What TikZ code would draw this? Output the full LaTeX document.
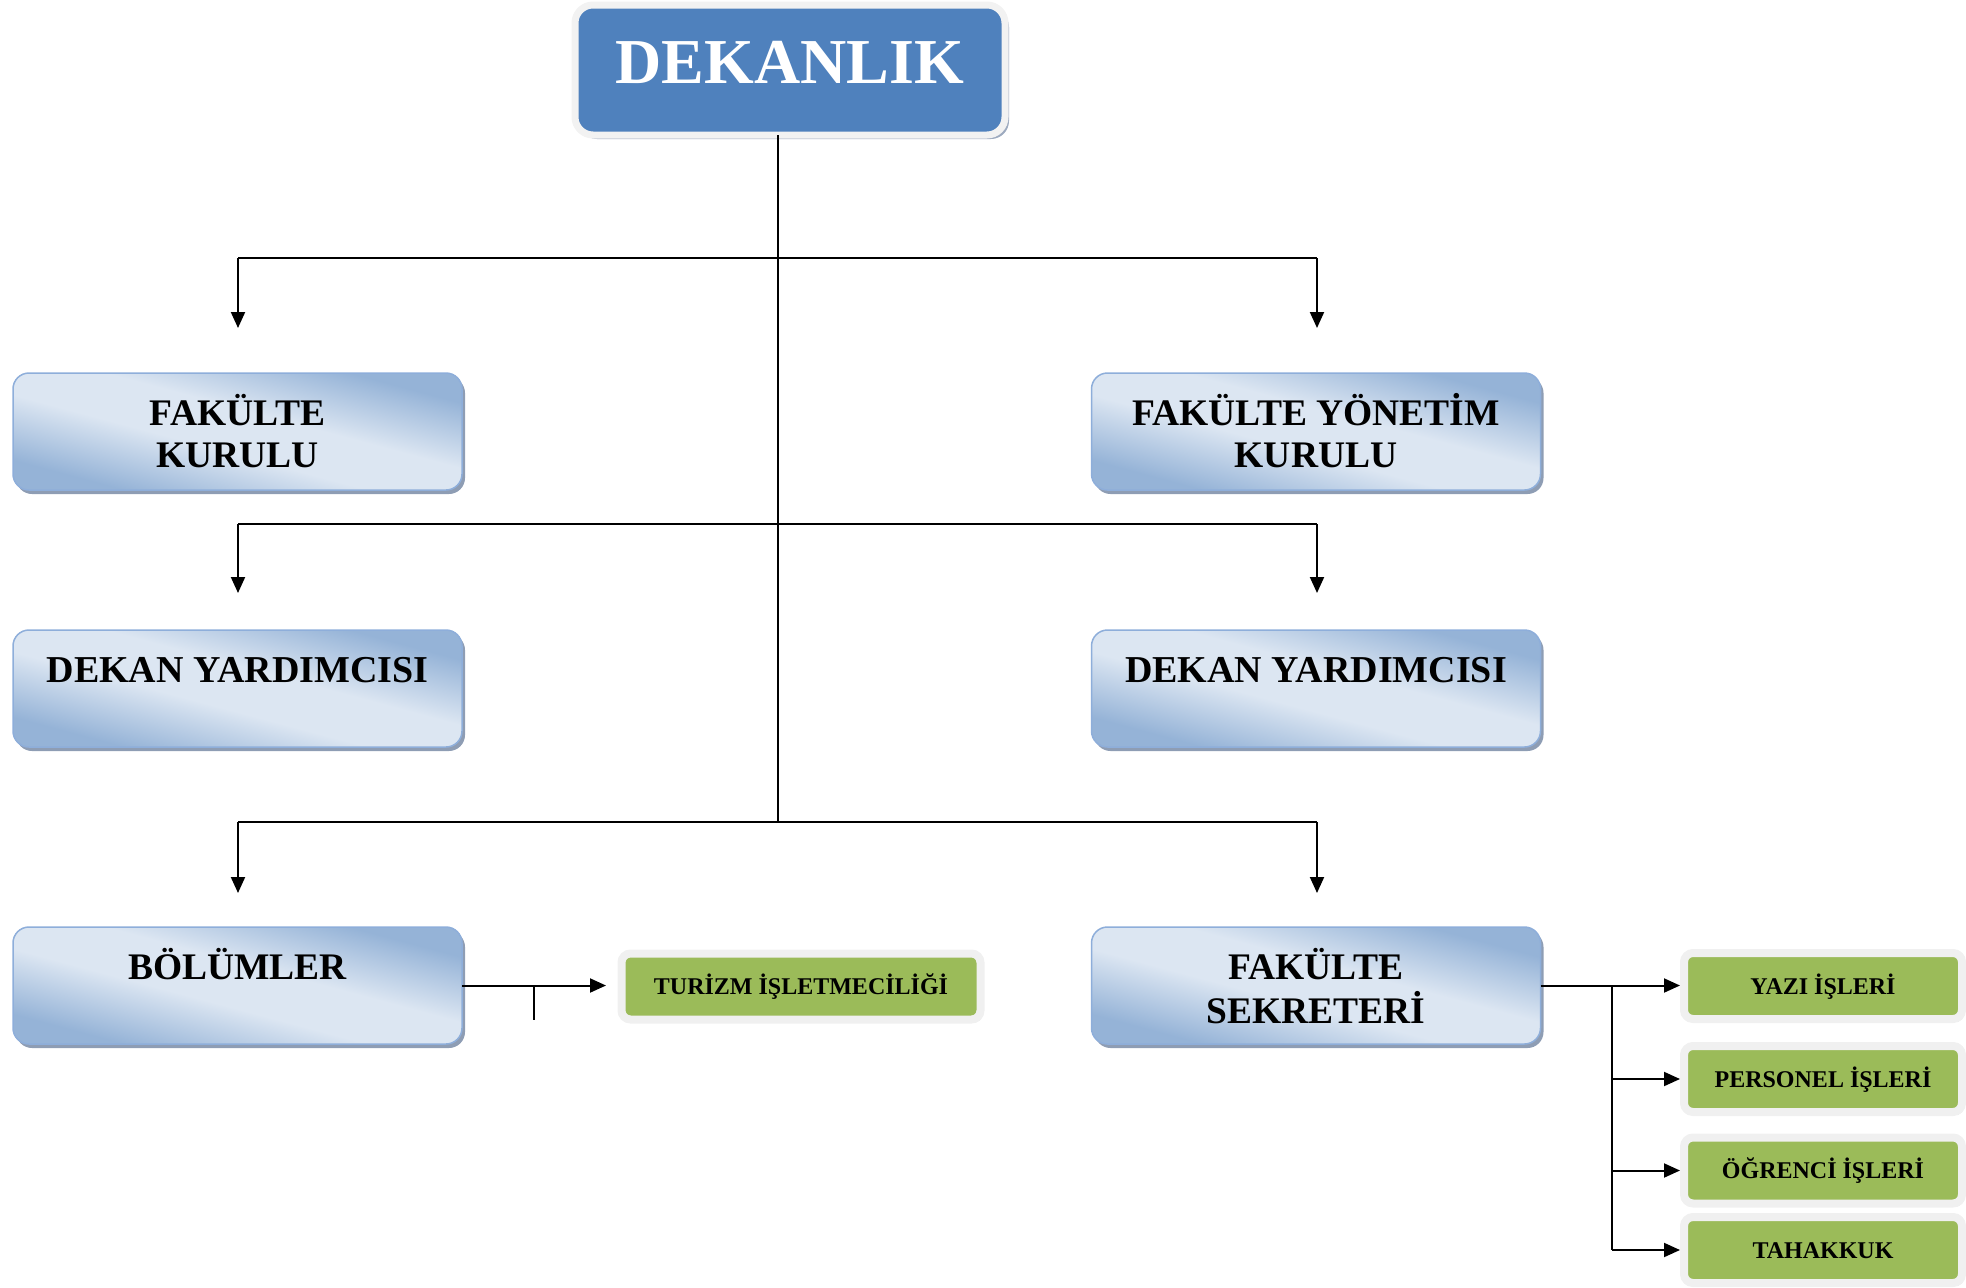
\documentclass[tikz,border=0pt]{standalone}
\usepackage{fontspec}
\setmainfont{Liberation Serif}
\usetikzlibrary{arrows.meta,shadows}
\definecolor{bdark}{HTML}{95B3D7}
\definecolor{blight}{HTML}{DCE6F2}
\definecolor{bborder}{HTML}{8EAEDA}
\definecolor{bshadow}{HTML}{8E9DB4}
\definecolor{dekfill}{HTML}{4F81BD}
\definecolor{dekborder}{HTML}{F2F2F2}
\definecolor{dekshadow}{HTML}{9DAABF}
\definecolor{gfill}{HTML}{9BBB59}
\definecolor{gborder}{HTML}{F0F0F0}
\definecolor{gshadow}{HTML}{A3AA98}
\pgfdeclareverticalshading{bluegrad}{100bp}{color(0bp)=(bdark); color(27bp)=(bdark); color(44bp)=(blight); color(56bp)=(blight); color(73bp)=(bdark); color(100bp)=(bdark)}
\tikzset{
  bluebox/.style={rounded corners=16pt, minimum width=449pt, minimum height=117pt,
    inner sep=0pt, outer sep=0pt, draw=bborder, line width=1.5pt,
    shading=bluegrad, shading angle=-15,
    drop shadow={shadow xshift=3pt, shadow yshift=-4pt, fill=bshadow, opacity=1},
    font=\bfseries\fontsize{37.5}{42}\selectfont, text height=52pt, text depth=65pt},
  greenbox/.style={rounded corners=9pt, fill=gfill, draw=gborder, line width=8pt,
    minimum height=66pt, inner sep=0pt, outer sep=0pt,
    drop shadow={shadow xshift=2pt, shadow yshift=-3pt, fill=gshadow, opacity=1},
    font=\bfseries\fontsize{24}{28}\selectfont, text height=16pt, text depth=0pt},
  conn/.style={line width=2pt, black},
  arr/.style={conn, -{Triangle[length=16pt,width=14pt]}},
}
\begin{document}
\begin{tikzpicture}[x=1pt,y=-1pt]
\useasboundingbox (0,0) rectangle (1966,1288);
% top box
\node[rounded corners=18pt, fill=dekfill, draw=dekborder, line width=7pt,
  minimum width=430pt, minimum height=130pt, inner sep=0pt, outer sep=0pt,
  drop shadow={shadow xshift=4pt, shadow yshift=-4pt, fill=dekshadow, opacity=1},
  text=white, font=\bfseries\fontsize{64}{70}\selectfont, text height=43pt, text depth=17pt]
  (dek) at (790,70) {DEKANLIK};
% blue boxes
\node[bluebox] (fk)  at (237.5,431.5) {\begin{tabular}[t]{@{}c@{}}FAKÜLTE\\KURULU\end{tabular}};
\node[bluebox] (fyk) at (1316,431.5) {\begin{tabular}[t]{@{}c@{}}FAKÜLTE YÖNETİM\\KURULU\end{tabular}};
\node[bluebox, font=\bfseries\fontsize{38}{42}\selectfont] (dy1) at (237.5,688.5) {DEKAN YARDIMCISI};
\node[bluebox, font=\bfseries\fontsize{38}{42}\selectfont] (dy2) at (1316,688.5) {DEKAN YARDIMCISI};
\node[bluebox] (bol) at (237.5,985.5) {BÖLÜMLER};
\node[bluebox] (fs)  at (1316,985.5) {\begin{tabular}[t]{@{}c@{}}FAKÜLTE\\SEKRETERİ\end{tabular}};
% green boxes
\node[greenbox, minimum width=359pt] (tur) at (801,986.5) {TURİZM İŞLETMECİLİĞİ};
\node[greenbox, minimum width=278pt] (yazi) at (1823,986) {YAZI İŞLERİ};
\node[greenbox, minimum width=278pt] (pers) at (1823,1079) {PERSONEL İŞLERİ};
\node[greenbox, minimum width=278pt] (ogr)  at (1823,1170.5) {ÖĞRENCİ İŞLERİ};
\node[greenbox, minimum width=278pt] (tah)  at (1823,1250) {TAHAKKUK};
% coordinates
\coordinate (tx) at (778,0);
\coordinate (t3) at (778,822);
\coordinate (jL1) at (238,258);  \coordinate (jR1) at (1317,258);
\coordinate (aL1) at (238,328);  \coordinate (aR1) at (1317,328);
\coordinate (jL2) at (238,524);  \coordinate (jR2) at (1317,524);
\coordinate (aL2) at (238,593);  \coordinate (aR2) at (1317,593);
\coordinate (jL3) at (238,822);  \coordinate (jR3) at (1317,822);
\coordinate (aL3) at (238,893);  \coordinate (aR3) at (1317,893);
\coordinate (tick) at (534,1020);
\coordinate (brx) at (1612,0);
% trunk and branches
\draw[conn] (dek.south -| tx) -- (t3);
\draw[conn] (jL1) -- (jR1);
\draw[conn] (jL2) -- (jR2);
\draw[conn] (jL3) -- (jR3);
\draw[arr] (jL1) -- (aL1);
\draw[arr] (jR1) -- (aR1);
\draw[arr] (jL2) -- (aL2);
\draw[arr] (jR2) -- (aR2);
\draw[arr] (jL3) -- (aL3);
\draw[arr] (jR3) -- (aR3);
% bolumler
\draw[arr, shorten >=15.5pt] (bol.east) -- (bol.east -| tur.west);
\draw[conn] (bol.east -| tick) -- (tick);
% fakulte sekreteri
\draw[arr, shorten >=4pt] (fs.east) -- (fs.east -| yazi.west);
\draw[conn] (fs.east -| brx) -- (tah.west -| brx);
\draw[arr, shorten >=4pt] (pers.west -| brx) -- (pers.west);
\draw[arr, shorten >=4pt] (ogr.west -| brx) -- (ogr.west);
\draw[arr, shorten >=4pt] (tah.west -| brx) -- (tah.west);
\end{tikzpicture}
\end{document}
